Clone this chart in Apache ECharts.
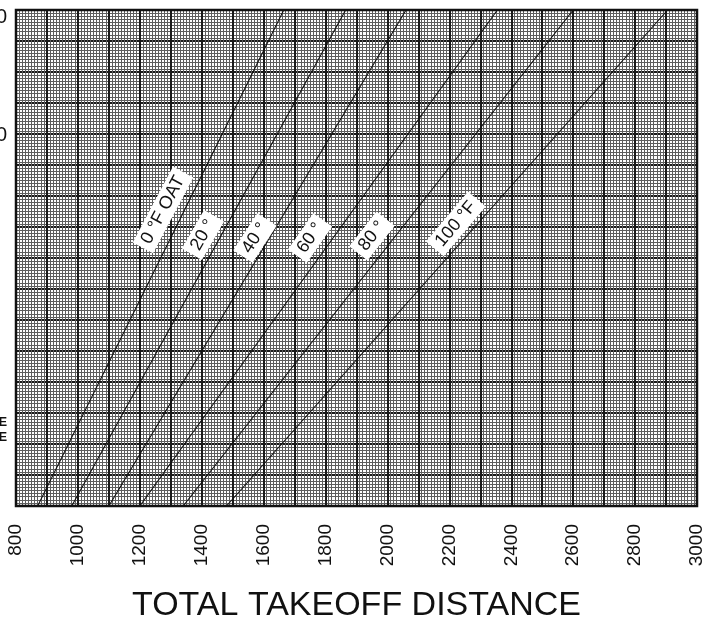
<!DOCTYPE html>
<html>
<head>
<meta charset="utf-8">
<script src="https://cdn.jsdelivr.net/npm/echarts@6/dist/echarts.min.js"></script>
<style>
  html, body { margin: 0; padding: 0; background: #fff; }
  #chart { width: 708px; height: 629px; }
</style>
</head>
<body>
<div id="chart"></div>
<script>
// Outside air temperature curves
const temperatures = ['0 °F OAT', '20 °', '40 °', '60 °', '80 °', '100 °F'];
// Total takeoff distance (ft) where each curve meets the bottom and the top of the altitude scale
const distanceAtBottom = [870, 980, 1100, 1200, 1340, 1480];
const distanceAtTop = [1665, 1865, 2060, 2355, 2600, 2905];
// Altitude scale limits (ft)
const altitudeLimits = [-280, 8130];
// Tick labels
const distanceTicks = [800, 1000, 1200, 1400, 1600, 1800, 2000, 2200, 2400, 2600, 2800, 3000];
const altitudeTicks = [8000, 6000];
const sideCaption = ['PRESSURE', 'ALTITUDE'];

// Where each curve's name sits (distance, altitude) and its slant in degrees
const curveLabelAt = [[1275, 4740], [1404, 4315], [1572, 4264], [1750, 4264], [1950, 4298], [2221, 4502]];
const curveLabelSlant = [62, 60, 57, 55, 52, 50];

const FONT = '"Liberation Sans", Arial, Helvetica, sans-serif';
const INK = '#111';
const CAPTION_AT = 1000;

const lineSeries = temperatures.map((t, i) => ({
  name: t,
  type: 'line',
  xAxisIndex: 0,
  yAxisIndex: 1,
  symbol: 'none',
  silent: true,
  z: 3,
  lineStyle: { color: INK, width: 1.1 },
  data: [[distanceAtBottom[i], altitudeLimits[0]], [distanceAtTop[i], altitudeLimits[1]]]
}));

const labelSeries = {
  type: 'scatter',
  xAxisIndex: 0,
  yAxisIndex: 1,
  symbolSize: 0,
  silent: true,
  z: 5,
  itemStyle: { opacity: 1 },
  data: temperatures.map((t, i) => ({
    value: curveLabelAt[i],
    label: {
      show: true,
      position: 'inside',
      formatter: t,
      rotate: curveLabelSlant[i],
      fontFamily: FONT,
      fontSize: 18,
      color: INK,
      opacity: 1,
      textBorderWidth: 0,
      backgroundColor: '#fff',
      padding: [3, 6, 2, 6]
    }
  }))
};

const chart = echarts.init(document.getElementById('chart'), null, { renderer: 'canvas' });
chart.setOption({
  animation: false,
  backgroundColor: '#fff',
  grid: {
    left: 16, right: 11, top: 10, bottom: 123,
    outerBoundsMode: 'none',
    containLabel: false,
    show: true, borderColor: INK, borderWidth: 2.5, backgroundColor: 'transparent', z: 4
  },
  xAxis: {
    type: 'value',
    min: distanceTicks[0],
    max: distanceTicks[distanceTicks.length - 1],
    interval: 100,
    name: 'TOTAL TAKEOFF DISTANCE',
    nameLocation: 'middle',
    nameGap: 83,
    nameTextStyle: { fontFamily: FONT, fontSize: 34, color: INK },
    axisLine: { show: false },
    axisTick: { show: false },
    minorTick: { show: false, splitNumber: 10 },
    axisLabel: {
      rotate: 90,
      margin: 18,
      fontFamily: FONT,
      fontSize: 19,
      color: INK,
      formatter: v => (distanceTicks.indexOf(v) >= 0 ? String(v) : '')
    },
    splitLine: { show: true, lineStyle: { color: '#1a1a1a', width: 2 } },
    minorSplitLine: { show: true, lineStyle: { color: '#5e5e5e', width: 1 } }
  },
  yAxis: [
    {
      // graph-paper rulings
      type: 'value',
      position: 'left',
      min: 0, max: 16, interval: 1,
      axisLine: { show: false },
      axisTick: { show: false },
      axisLabel: { show: false },
      minorTick: { show: false, splitNumber: 10 },
      splitLine: { show: true, lineStyle: { color: '#1a1a1a', width: 2 } },
      minorSplitLine: { show: true, lineStyle: { color: '#5e5e5e', width: 1 } }
    },
    {
      // altitude scale
      type: 'value',
      position: 'left',
      offset: 0,
      min: altitudeLimits[0], max: altitudeLimits[1],
      axisLine: { show: false },
      axisTick: { show: false },
      splitLine: { show: false },
      axisLabel: {
        customValues: altitudeTicks.concat([CAPTION_AT]),
        margin: 9,
        fontFamily: FONT,
        fontSize: 20,
        color: INK,
        formatter: v => (v === CAPTION_AT
          ? sideCaption.map(s => '{cap|' + s + '}').join('\n')
          : String(v)),
        rich: {
          cap: { fontFamily: FONT, fontSize: 12.5, fontWeight: 'bold', lineHeight: 15, color: INK, align: 'right' }
        }
      }
    }
  ],
  series: lineSeries.concat([labelSeries])
});
</script>
</body>
</html>
